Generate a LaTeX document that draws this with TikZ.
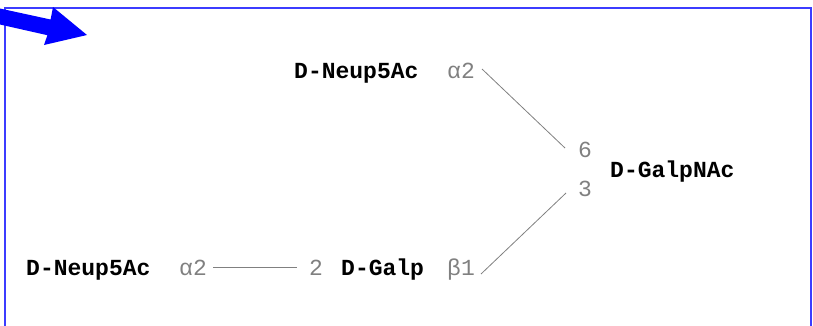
\documentclass[tikz,border=0pt]{standalone}
\usepackage{fontspec}
\newfontfamily\monofont{Liberation Mono}
\definecolor{frameblue}{RGB}{60,60,255}
\definecolor{linkgray}{RGB}{128,128,128}
\begin{document}
\begin{tikzpicture}[x=1pt,y=-1pt,
  residue/.style={anchor=base west,inner sep=0pt,font=\monofont\fontsize{23}{23}\selectfont\bfseries,text=black},
  linklabel/.style={anchor=base west,inner sep=0pt,font=\monofont\fontsize{23}{23}\selectfont,text=linkgray},
  link/.style={draw=linkgray,line width=0.8pt}]
\useasboundingbox (0,0) rectangle (813,325);
% frame
\draw[frameblue,line width=1.5pt] (5,326) -- (5,8) -- (811,8) -- (811,326);
% blue arrow
\fill[blue] (0,8.5) -- (50.6,19.5) -- (53,7) -- (87,35) -- (44,45) -- (47.4,35.2) -- (0,24.5) -- cycle;
% nodes
\node[residue] (n1) at (294,78) {D-Neup5Ac};
\node[linklabel] (a1) at (447,78) {α2};
\node[linklabel] (six) at (578,157) {6};
\node[residue] (galnac) at (610,177) {D-GalpNAc};
\node[linklabel] (three) at (578,196) {3};
\node[residue] (n2) at (26,275) {D-Neup5Ac};
\node[linklabel] (a2) at (179,275) {α2};
\node[linklabel] (two) at (309,275) {2};
\node[residue] (gal) at (341,275) {D-Galp};
\node[linklabel] (b1) at (447,275) {β1};
% links
\draw[link] ([xshift=7pt,yshift=9pt]a1.base east) -- ([xshift=-13pt,yshift=9pt]six.base west);
\draw[link] ([xshift=6pt,yshift=1pt]b1.base east) -- ([xshift=-12pt,yshift=3pt]three.base west);
\draw[link] ([xshift=6pt,yshift=8pt]a2.base east) -- ([xshift=-12pt,yshift=8pt]two.base west);
\end{tikzpicture}
\end{document}
